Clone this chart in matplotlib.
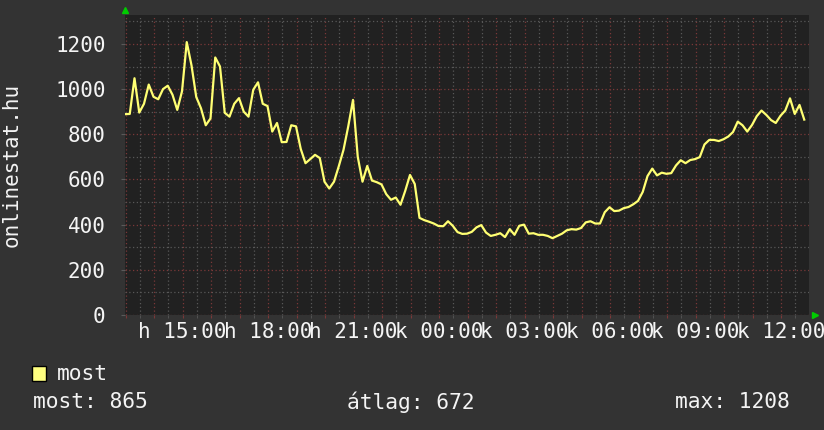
import numpy as np
import matplotlib.pyplot as plt
from matplotlib.patches import Rectangle

# Data: online users, one reading every 10 minutes over 24 hours
start_hour = 12.98
step_hours = 1 / 6
values = [
    889, 890, 1048, 896, 935, 1020, 966, 955, 1000, 1015,
    975, 908, 990, 1208, 1105, 965, 915, 840, 870, 1140,
    1100, 895, 878, 935, 960, 900, 878, 997, 1030, 935,
    925, 812, 850, 765, 766, 840, 835, 735, 672, 690,
    709, 695, 590, 560, 590, 658, 731, 835, 952, 700,
    590, 660, 595, 588, 578, 535, 510, 520, 488, 550,
    620, 580, 430, 420, 413, 405, 394, 393, 415, 395,
    367, 359, 360, 368, 388, 398, 365, 350, 355, 362,
    345, 380, 355, 395, 400, 360, 362, 355, 355, 350,
    340, 350, 360, 375, 380, 378, 385, 410, 415, 405,
    405, 455, 477, 460, 462, 473, 478, 490, 505, 545,
    615, 648, 618, 630, 625, 628, 662, 685, 672, 686,
    690, 699, 755, 775, 775, 770, 778, 790, 810, 856,
    840, 812, 841, 880, 905, 886, 863, 850, 882, 905,
    959, 890, 930, 865,
]
tick_hours = [15, 18, 21, 24, 27, 30, 33, 36]
tick_labels = ["h 15:00", "h 18:00", "h 21:00", "k 00:00",
               "k 03:00", "k 06:00", "k 09:00", "k 12:00"]
series_name = "most"
stat_labels = ["most: 865", "átlag: 672", "max: 1208"]

hours = start_hour + step_hours * np.arange(len(values))

bg = "#333333"
plot_bg = "#212121"
grid_minor = "#585858"
grid_major = "#7a3838"
line_color = "#ffff73"
text_color = "#f4f4f4"
mono = "DejaVu Sans Mono"
fs = 15
fs_leg = 15.3

fig = plt.figure(figsize=(8.24, 4.30), dpi=100, facecolor=bg)
ax = fig.add_axes([125 / 824, 115 / 430, 684 / 824, 300 / 430])
ax.set_facecolor(plot_bg)

ax.plot(hours, values, color=line_color, linewidth=1.6, zorder=3)

ax.set_xlim(start_hour, start_hour + 24)
ax.set_ylim(0, 1328)

# hourly major grid, half hour minor grid, labels every 3 hours
major_hours = np.arange(13, 37)
ax.set_xticks(major_hours)
ax.set_xticklabels([tick_labels[tick_hours.index(h)] if h in tick_hours else ""
                    for h in major_hours])
ax.set_xticks(np.arange(13.5, 37, 1), minor=True)
ax.set_yticks(np.arange(0, 1201, 200))
ax.set_yticks(np.arange(100, 1301, 200), minor=True)

dots = (0, (1, 2))
ax.grid(which="major", color=grid_major, linestyle=dots, linewidth=0.9)
ax.grid(which="minor", color=grid_minor, linestyle=dots, linewidth=0.9)
ax.set_axisbelow(True)

ax.tick_params(axis="x", which="major", length=2, color=grid_major, pad=3,
               labelsize=fs, labelcolor=text_color)
ax.tick_params(axis="x", which="minor", length=2, color=grid_minor)
ax.tick_params(axis="y", which="major", length=3, color="#5a5a5a", pad=11,
               labelsize=fs, labelcolor=text_color)
ax.tick_params(axis="y", which="minor", length=0)
for lab in ax.get_xticklabels() + ax.get_yticklabels():
    lab.set_family(mono)

for s in ax.spines.values():
    s.set_visible(False)

# rrdtool style axis arrows
fig.add_artist(plt.Line2D([125 / 824], [1 - 10 / 430], marker="^", color="#00cc00",
                          markersize=4, linestyle="none"))
fig.add_artist(plt.Line2D([815 / 824], [115 / 430], marker=">", color="#00cc00",
                          markersize=4, linestyle="none"))

fig.text(12 / 824, 1 - 165 / 430, "onlinestat.hu", rotation=90, ha="center",
         va="center", fontsize=fs, family=mono, color=text_color)

# legend
fig.add_artist(Rectangle((32 / 824, 1 - 381 / 430), 14 / 824, 15 / 430,
                         transform=fig.transFigure, facecolor="#ffff80",
                         edgecolor="black", linewidth=1))
fig.text(57 / 824, 1 - 374 / 430, series_name, ha="left", va="center",
         fontsize=fs_leg, family=mono, color=text_color)

fig.text(33 / 824, 1 - 402 / 430, stat_labels[0], ha="left", va="center",
         fontsize=fs_leg, family=mono, color=text_color)
fig.text(347 / 824, 1 - 402 / 430, stat_labels[1], ha="left", va="center",
         fontsize=fs_leg, family=mono, color=text_color)
fig.text(790 / 824, 1 - 402 / 430, stat_labels[2], ha="right", va="center",
         fontsize=fs_leg, family=mono, color=text_color)

fig.savefig("out.png", dpi=100, facecolor=bg)
